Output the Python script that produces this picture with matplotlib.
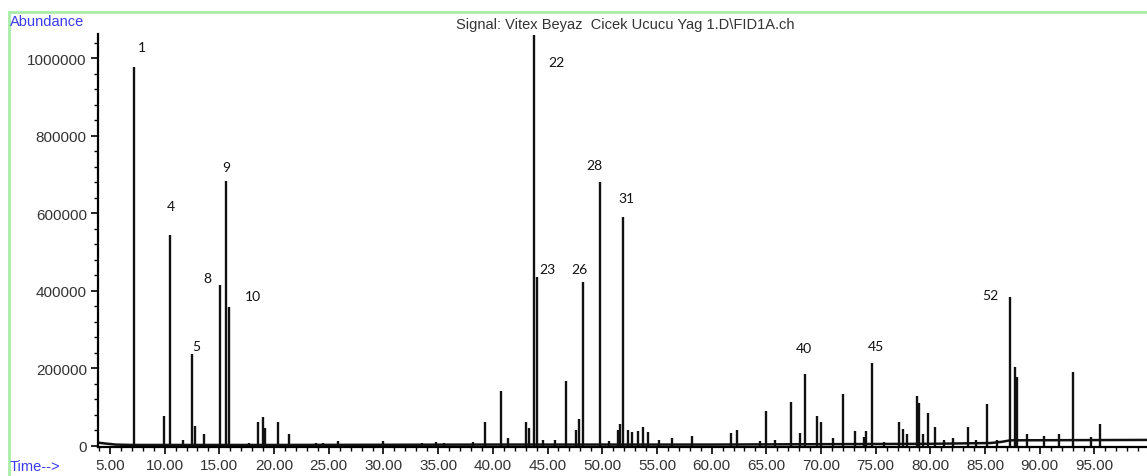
import matplotlib
matplotlib.use("Agg")
import matplotlib.pyplot as plt
from matplotlib.patches import Rectangle
from matplotlib.ticker import MultipleLocator, FuncFormatter

# peak retention times (min) and heights (abundance)
peak_times = [
    7.2, 9.9, 10.5, 11.7, 12.5, 12.8, 13.6, 15.05, 15.65, 15.85, 17.7,
    18.5, 19.0, 19.2, 20.4, 21.4, 23.8, 24.5, 25.8, 30.0, 33.5, 34.8, 35.5,
    38.2, 39.3, 40.7, 41.4, 43.0, 43.3, 43.8, 44.0, 44.6, 45.7, 46.7, 47.6,
    47.9, 48.2, 49.75, 50.6, 51.4, 51.6, 51.9, 52.4, 52.7, 53.3, 53.7, 54.2,
    55.2, 56.4, 58.2, 61.8, 62.3, 64.4, 65.0, 65.8, 67.3, 68.1, 68.5, 69.6,
    70.0, 71.1, 72.0, 73.1, 73.9, 74.1, 74.7, 75.8, 77.1, 77.5, 77.9, 78.8,
    79.0, 79.3, 79.8, 80.4, 81.2, 82.1, 83.4, 84.2, 85.2, 86.1, 87.3, 87.7,
    87.9, 88.8, 90.4, 91.8, 93.0, 94.7, 95.5,
]
peak_heights = [
    977000, 77000, 545000, 15000, 237000, 50000, 30000, 415000, 683000, 359000, 8000,
    60000, 75000, 45000, 60000, 30000, 8000, 8000, 12000, 12000, 7000, 9000, 8000,
    10000, 62000, 142000, 20000, 62000, 45000, 1060000, 436000, 15000, 15000, 168000, 40000,
    70000, 423000, 681000, 12000, 40000, 57000, 591000, 40000, 35000, 38000, 48000, 35000,
    15000, 20000, 25000, 32000, 40000, 12000, 90000, 15000, 113000, 33000, 186000, 77000,
    60000, 20000, 134000, 38000, 22000, 38000, 214000, 10000, 62000, 43000, 30000, 129000,
    110000, 30000, 85000, 48000, 15000, 20000, 48000, 15000, 108000, 15000, 385000, 204000,
    178000, 30000, 25000, 30000, 190000, 22000, 55000,
]

# baseline drift
base_t = [3.9, 4.5, 5.5, 7.0, 20.0, 40.0, 60.0, 80.0, 85.5, 86.5, 87.3, 100.0]
base_y = [8000, 6000, 3000, 2000, 2000, 3000, 3000, 5000, 7000, 10000, 14000, 15000]

# numbered peak labels
label_names = ["1", "4", "5", "8", "9", "10", "22", "23", "26", "28", "31", "40", "45", "52"]
label_t = [7.9, 10.6, 12.9, 13.9, 15.6, 18.1, 45.8, 45.0, 47.9, 49.3, 52.2, 68.4, 75.0, 85.5]
label_y = [1030000, 619000, 258000, 434000, 720000, 387000, 991000, 457000, 457000,
           725000, 640000, 253000, 258000, 390000]

fig = plt.figure(figsize=(11.47, 4.77), dpi=100)
ax = fig.add_axes([0.0854, 0.061, 0.9146, 0.866])

ax.plot(base_t, base_y, color="#111111", lw=1.8, solid_joinstyle="round")
ax.vlines(peak_times, 0, peak_heights, color="#111111", lw=1.7)

for name, t, y in zip(label_names, label_t, label_y):
    ax.text(t, y, name, ha="center", va="center", fontsize=10,
            family="Lato", color="#111111")

ax.set_xlim(3.9, 99.8)
ax.set_ylim(-3000, 1063000)

ax.xaxis.set_minor_locator(MultipleLocator(1))
ax.yaxis.set_major_locator(MultipleLocator(200000))
ax.yaxis.set_minor_locator(MultipleLocator(40000))
ax.set_xticks([5 * i for i in range(1, 20)])
ax.xaxis.set_major_formatter(FuncFormatter(lambda v, p: f"{v:.2f}"))
ax.yaxis.set_major_formatter(FuncFormatter(lambda v, p: f"{int(round(v))}"))

for s in ["top", "right"]:
    ax.spines[s].set_visible(False)
ax.spines["left"].set_linewidth(1.6)
ax.spines["bottom"].set_linewidth(1.6)
ax.tick_params(axis="both", which="major", direction="out", length=5, width=1.2,
               labelsize=11, labelcolor="#333333", pad=3)
ax.tick_params(axis="both", which="minor", direction="out", length=3, width=1.0)
for lab in ax.get_xticklabels() + ax.get_yticklabels():
    lab.set_family("Liberation Sans")

fig.text(0.545, 1 - 25 / 477, r"Signal: Vitex Beyaz  Cicek Ucucu Yag 1.D\FID1A.ch",
         ha="center", va="center", fontsize=10.5, family="Liberation Sans", color="#333333")
fig.text(10 / 1147, 1 - 22 / 477, "Abundance", ha="left", va="center",
         fontsize=10.5, family="Liberation Sans", color="#3a3af0")
fig.text(10 / 1147, 1 - 467 / 477, "Time-->", ha="left", va="center",
         fontsize=10.5, family="Liberation Sans", color="#3a3af0")

# light green frame round the plot window (bottom and right fall outside the picture)
fig.patches.append(Rectangle((9 / 1147, -0.1), 1.2, 1.1 - 13 / 477,
                             transform=fig.transFigure, fill=False,
                             edgecolor="#a8eca8", lw=2, clip_on=False))

fig.savefig("out.png", dpi=100)
